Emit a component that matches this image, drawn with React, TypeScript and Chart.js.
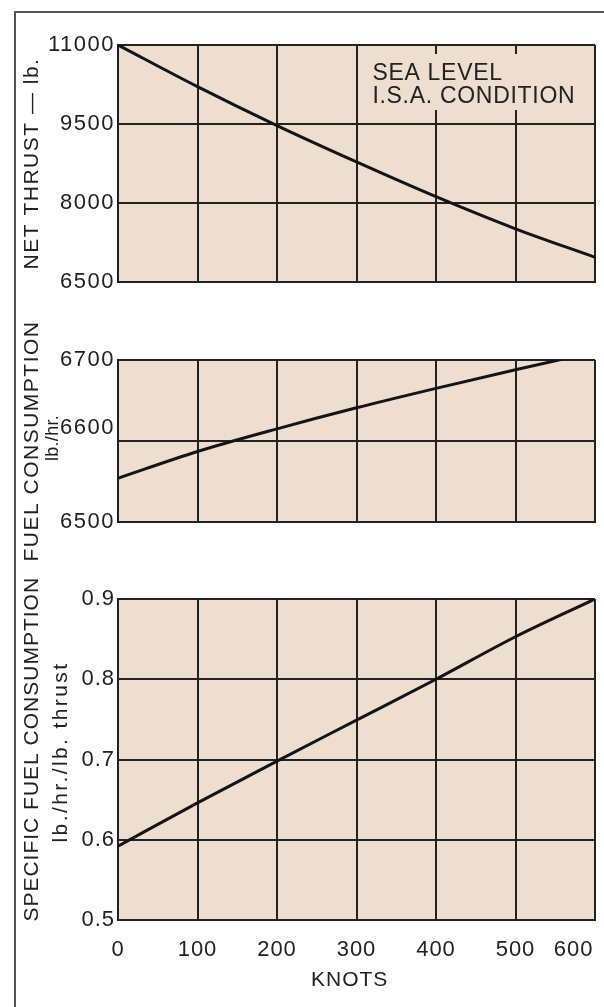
import React, { useEffect, useRef } from 'react';
import { Chart, registerables } from 'chart.js';

Chart.register(...registerables);

// ---------- data ----------
const knots = [0, 100, 200, 300, 400, 500, 600];
const netThrust = [11000, 10210, 9470, 8780, 8120, 7510, 6970];
const fuelFlow = [6554, 6587, 6615, 6641, 6665, 6688, 6710];
const specificFuel = [0.592, 0.646, 0.698, 0.749, 0.8, 0.853, 0.9];

const knotTicks = [0, 100, 200, 300, 400, 500, 600];
const thrustTicks = [6500, 8000, 9500, 11000];
const fuelTicks = [6500, 6600, 6700];
const sfcTicks = [0.5, 0.6, 0.7, 0.8, 0.9];

const thrustTitle = 'NET THRUST \u2014 lb.';
const fuelTitle = 'FUEL CONSUMPTION';
const fuelUnit = 'lb./hr.';
const sfcTitle = '\u00a0\u00a0\u00a0SPECIFIC FUEL CONSUMPTION';
const sfcUnit = 'lb./hr./lb. thrust';
const xTitle = 'KNOTS\u00a0\u00a0';
const noteLines = ['SEA LEVEL', 'I.S.A. CONDITION'];

// ---------- style ----------
const FONT = "'Liberation Sans', Arial, Helvetica, sans-serif";
const INK = '#222222';
const GRID = '#222222';
const PLOT_BG = '#eddecf';

type Sub = { text: string; size: number; spacing: number; dx: number; dy: number };

type Spec = {
  key: string;
  top: number;
  height: number;
  padTop: number;
  padBottom: number;
  spacing: string;
  values: number[];
  yMin: number;
  yMax: number;
  yTicks: number[];
  yTitle: string;
  yFormat: (v: number) => string | string[];
  sub: Sub | null;
  showX: boolean;
  note: boolean;
};

function paperPlugin(spacing: string) {
  return {
    id: 'paper',
    beforeDraw(chart: any) {
      const { ctx, chartArea: a } = chart;
      ctx.letterSpacing = spacing;
      ctx.save();
      ctx.fillStyle = PLOT_BG;
      ctx.fillRect(a.left, a.top, a.right - a.left, a.bottom - a.top);
      ctx.restore();
    },
    afterDraw(chart: any) {
      chart.ctx.letterSpacing = '0px';
    },
  };
}

function subPlugin(sub: Sub) {
  return {
    id: 'subtitle',
    afterDraw(chart: any) {
      const { ctx, chartArea: a, scales } = chart;
      ctx.save();
      ctx.translate(scales.y.left + sub.dx, (a.top + a.bottom) / 2 + sub.dy);
      ctx.rotate(-Math.PI / 2);
      ctx.font = `${sub.size}px ${FONT}`;
      ctx.letterSpacing = `${sub.spacing}px`;
      ctx.fillStyle = INK;
      ctx.textAlign = 'center';
      ctx.textBaseline = 'middle';
      ctx.fillText(sub.text, 0, 0);
      ctx.restore();
    },
  };
}

const notePlugin = {
  id: 'note',
  afterDraw(chart: any) {
    const { ctx, chartArea: a, scales } = chart;
    const x = scales.x;
    ctx.save();
    const left = x.getPixelForValue(312);
    ctx.fillStyle = PLOT_BG;
    ctx.fillRect(left, a.top + 9, a.right - 7 - left, 56);
    ctx.fillStyle = INK;
    ctx.font = `23px ${FONT}`;
    ctx.letterSpacing = '0.7px';
    ctx.textBaseline = 'alphabetic';
    ctx.textAlign = 'left';
    const tx = x.getPixelForValue(320);
    noteLines.forEach((t, i) => ctx.fillText(t, tx, a.top + 35 + i * 23));
    ctx.restore();
  },
};

function makeConfig(spec: Spec): any {
  const plugins: any[] = [paperPlugin(spec.spacing)];
  if (spec.sub) plugins.push(subPlugin(spec.sub));
  if (spec.note) plugins.push(notePlugin);
  return {
    type: 'line',
    data: {
      datasets: [
        {
          data: knots.map((k, i) => ({ x: k, y: spec.values[i] })),
          borderColor: '#141414',
          borderWidth: 3,
          pointRadius: 0,
          cubicInterpolationMode: 'monotone',
          fill: false,
        },
      ],
    },
    options: {
      responsive: false,
      animation: false,
      devicePixelRatio: 1,
      events: [],
      layout: { padding: { left: 0, right: 9, top: spec.padTop, bottom: spec.padBottom } },
      plugins: {
        legend: { display: false },
        tooltip: { enabled: false },
        title: { display: false },
      },
      scales: {
        x: {
          type: 'linear',
          min: 0,
          max: 600,
          afterBuildTicks: (s: any) => {
            s.ticks = knotTicks.map((v) => ({ value: v }));
          },
          afterFit: (s: any) => {
            s.height = spec.showX ? 87 : 0;
            s.paddingRight = 0;
            s.paddingLeft = 0;
          },
          grid: { color: GRID, lineWidth: 2, drawTicks: false },
          border: { color: GRID, width: 2 },
          ticks: {
            display: spec.showX,
            autoSkip: false,
            maxRotation: 0,
            minRotation: 0,
            padding: 17,
            color: INK,
            font: { family: FONT, size: 22 },
            callback: (v: any) => (Number(v) === 600 ? '600' + '\u00a0'.repeat(6) : String(v)),
          },
          title: {
            display: spec.showX,
            text: xTitle,
            color: INK,
            font: { family: FONT, size: 21 },
            padding: { top: 0, bottom: 14 },
          },
        },
        y: {
          type: 'linear',
          min: spec.yMin,
          max: spec.yMax,
          afterBuildTicks: (s: any) => {
            s.ticks = spec.yTicks.map((v) => ({ value: v }));
          },
          afterFit: (s: any) => {
            s.width = 118;
          },
          grid: { color: GRID, lineWidth: 2, drawTicks: false },
          border: { color: GRID, width: 2 },
          ticks: {
            padding: 3,
            color: INK,
            font: { family: FONT, size: 22 },
            callback: (v: any) => spec.yFormat(Number(v)),
          },
          title: {
            display: true,
            text: spec.yTitle,
            color: INK,
            font: { family: FONT, size: 21, lineHeight: 1.38 },
            padding: { top: 18, bottom: 0 },
          },
        },
      },
    },
    plugins,
  };
}

const specs: Spec[] = [
  {
    key: 'thrust',
    top: 0,
    height: 300,
    padTop: 45,
    padBottom: 18,
    spacing: '1.5px',
    values: netThrust,
    yMin: 6500,
    yMax: 11000,
    yTicks: thrustTicks,
    yTitle: thrustTitle,
    yFormat: (v) => String(v),
    sub: null,
    showX: false,
    note: true,
  },
  {
    key: 'fuel',
    top: 290,
    height: 290,
    padTop: 70,
    padBottom: 58,
    spacing: '1.5px',
    values: fuelFlow,
    yMin: 6500,
    yMax: 6700,
    yTicks: fuelTicks,
    yTitle: fuelTitle,
    yFormat: (v) => (v === 6600 ? [String(v), ''] : String(v)),
    sub: { text: fuelUnit, size: 18, spacing: 0.3, dx: 53.5, dy: -3 },
    showX: false,
    note: false,
  },
  {
    key: 'sfc',
    top: 560,
    height: 447,
    padTop: 39,
    padBottom: 0,
    spacing: '1px',
    values: specificFuel,
    yMin: 0.5,
    yMax: 0.9,
    yTicks: sfcTicks,
    yTitle: sfcTitle,
    yFormat: (v) => v.toFixed(1),
    sub: { text: sfcUnit, size: 21, spacing: 2.4, dx: 61.5, dy: -7.5 },
    showX: true,
    note: false,
  },
];

function Panel({ spec }: { spec: Spec }) {
  const ref = useRef<HTMLCanvasElement | null>(null);
  useEffect(() => {
    if (!ref.current) return;
    const chart = new Chart(ref.current, makeConfig(spec));
    return () => chart.destroy();
  }, [spec]);
  return (
    <canvas
      ref={ref}
      width={604}
      height={spec.height}
      style={{ position: 'absolute', left: 0, top: spec.top, width: 604, height: spec.height }}
    />
  );
}

export default function App() {
  return (
    <div
      style={{
        position: 'absolute',
        left: 0,
        top: 0,
        width: 604,
        height: 1007,
        overflow: 'hidden',
        background: '#ffffff',
      }}
    >
      <div
        style={{
          position: 'absolute',
          left: 14,
          top: 11,
          width: 620,
          height: 1020,
          borderLeft: '2px solid #555',
          borderTop: '2px solid #555',
        }}
      />
      {specs.map((s) => (
        <Panel key={s.key} spec={s} />
      ))}
    </div>
  );
}
